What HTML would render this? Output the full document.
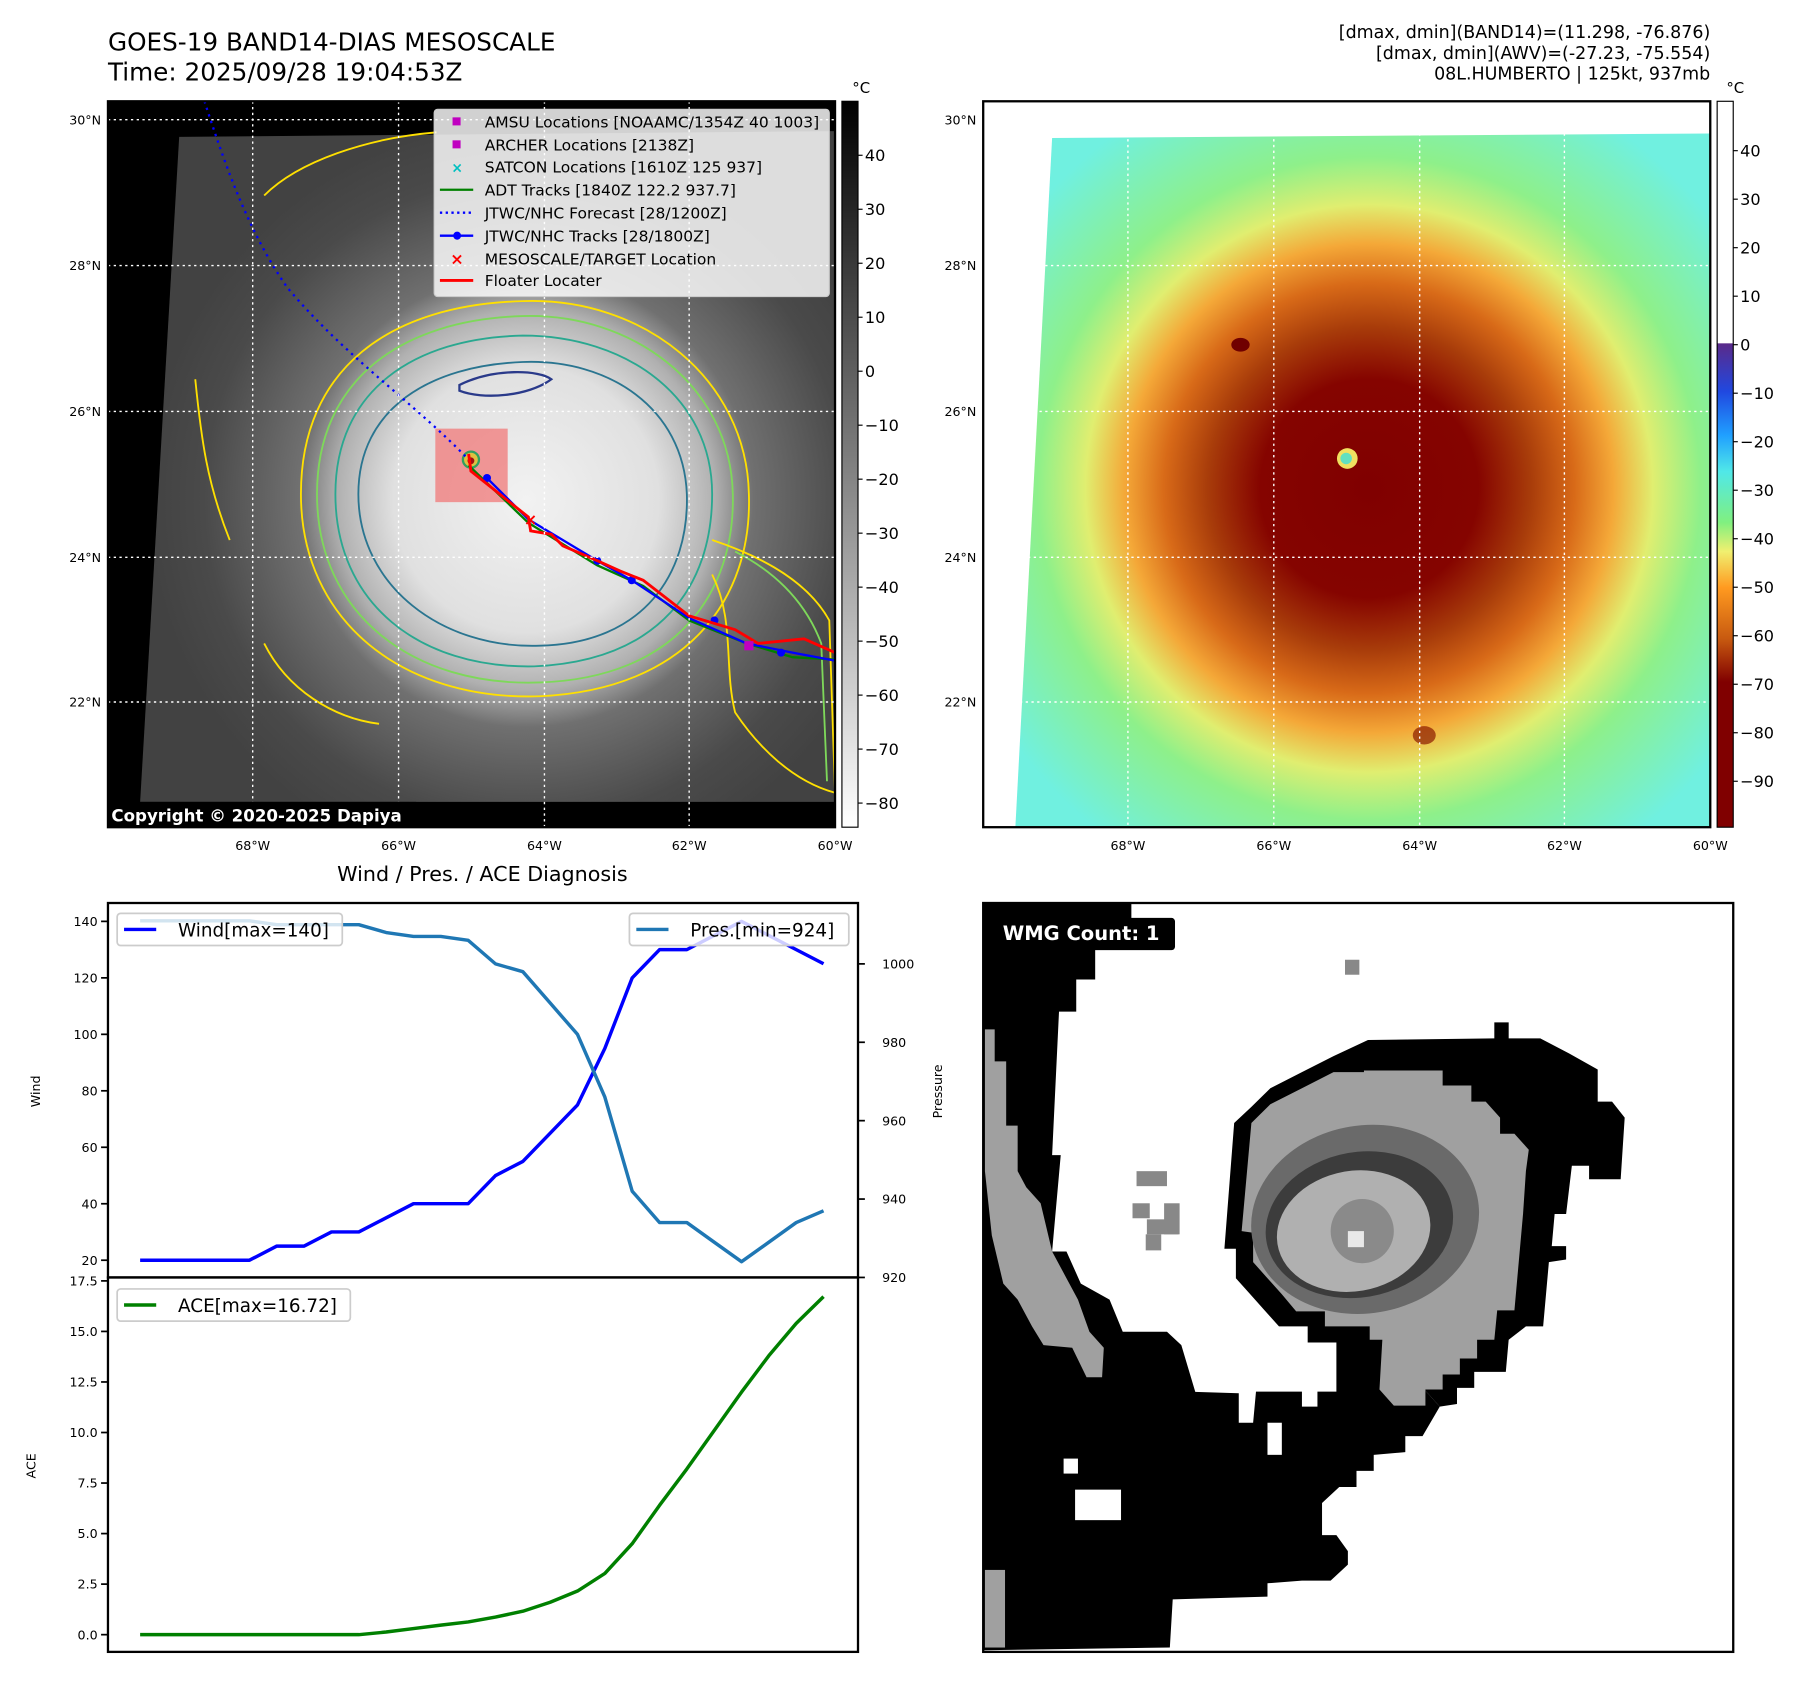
<!DOCTYPE html>
<html><head><meta charset="utf-8">
<style>
html,body{margin:0;padding:0;background:#fff;}
svg{display:block;font-family:"DejaVu Sans","Liberation Sans",sans-serif;}
</style></head>
<body>
<svg id="fig" width="1801" height="1690" viewBox="0 0 1568 1471" xmlns="http://www.w3.org/2000/svg">
<defs>
  <radialGradient id="irgray" gradientUnits="userSpaceOnUse" cx="458" cy="435" r="330">
    <stop offset="0" stop-color="#f2f2f2"/>
    <stop offset="0.35" stop-color="#e0e0e0"/>
    <stop offset="0.5" stop-color="#b0b0b0"/>
    <stop offset="0.6" stop-color="#707070"/>
    <stop offset="0.85" stop-color="#4a4a4a"/>
    <stop offset="1" stop-color="#424242"/>
  </radialGradient>
  <radialGradient id="ircolor" gradientUnits="userSpaceOnUse" cx="1192" cy="425" r="380">
    <stop offset="0" stop-color="#800000"/>
    <stop offset="0.25" stop-color="#850400"/>
    <stop offset="0.37" stop-color="#a83c0a"/>
    <stop offset="0.47" stop-color="#d86a18"/>
    <stop offset="0.56" stop-color="#f4a838"/>
    <stop offset="0.65" stop-color="#e0ee70"/>
    <stop offset="0.76" stop-color="#8ef08a"/>
    <stop offset="1" stop-color="#70f0e0"/>
  </radialGradient>
  <linearGradient id="cbgray" x1="0" y1="0" x2="0" y2="1">
    <stop offset="0" stop-color="#000"/><stop offset="1" stop-color="#fff"/>
  </linearGradient>
  <linearGradient id="cbcolor" gradientUnits="userSpaceOnUse" x1="0" y1="88" x2="0" y2="720">
    <stop offset="0" stop-color="#fff"/>
    <stop offset="0.333" stop-color="#fff"/>
    <stop offset="0.334" stop-color="#5a2a8a"/>
    <stop offset="0.40" stop-color="#2048e0"/>
    <stop offset="0.46" stop-color="#20a0ff"/>
    <stop offset="0.51" stop-color="#50e8e8"/>
    <stop offset="0.58" stop-color="#80f080"/>
    <stop offset="0.62" stop-color="#f0f070"/>
    <stop offset="0.67" stop-color="#ff9a20"/>
    <stop offset="0.74" stop-color="#c85a10"/>
    <stop offset="0.8" stop-color="#800000"/>
    <stop offset="1" stop-color="#800000"/>
  </linearGradient>
  <clipPath id="clipL"><rect x="94" y="88" width="633" height="632"/></clipPath>
</defs>

<text x="94" y="44" font-size="21.5">GOES-19 BAND14-DIAS MESOSCALE</text>
<text x="94" y="70" font-size="21.5">Time: 2025/09/28 19:04:53Z</text>
<g font-size="15.2" text-anchor="end">
  <text x="1489" y="33">[dmax, dmin](BAND14)=(11.298, -76.876)</text>
  <text x="1489" y="51">[dmax, dmin](AWV)=(-27.23, -75.554)</text>
  <text x="1489" y="69">08L.HUMBERTO | 125kt, 937mb</text>
</g>

<!-- LEFT MAP -->
<g clip-path="url(#clipL)">
  <rect x="94" y="88" width="633" height="632" fill="#000"/>
  <polygon points="156,119 727,114 727,698 122,698" fill="url(#irgray)"/>
  <g fill="none" stroke-width="1.6">
    <path d="M455,262 C560,258 650,330 652,430 C655,520 600,600 470,606 C350,610 262,540 262,430 C262,320 340,265 455,262 Z" stroke="#ffe000"/>
    <path d="M455,275 C550,272 636,335 638,430 C640,515 590,590 470,594 C360,598 276,535 276,430 C276,330 350,278 455,275 Z" stroke="#7ed85a"/>
    <path d="M455,292 C545,292 620,345 620,430 C620,510 575,575 465,580 C365,582 292,525 292,430 C292,340 360,294 455,292 Z" stroke="#2aa890"/>
    <path d="M455,315 C530,312 595,355 598,430 C600,500 560,560 470,562 C385,565 312,510 312,430 C312,355 375,318 455,315 Z" stroke="#2a7590"/>
    <path d="M400,335 C430,320 470,322 480,330 C460,345 420,348 400,340 Z" stroke="#2a3a8a" stroke-width="2"/>
    <path d="M620,470 C650,480 700,500 722,540 L727,690 C690,680 660,650 640,620 C630,580 640,540 620,500" stroke="#ffe000"/>
    <path d="M640,480 C670,495 700,520 715,560 L720,680" stroke="#7ed85a"/>
    <path d="M230,170 C260,140 320,120 380,115" stroke="#ffe000"/>
    <path d="M170,330 C175,380 180,420 200,470" stroke="#ffe000"/>
    <path d="M230,560 C250,600 290,625 330,630" stroke="#ffe000"/>
  </g>
  <rect x="379" y="373" width="63" height="64" fill="#f08080" opacity="0.8"/>
  <circle cx="410" cy="400" r="7" fill="#e0c040" stroke="#30a060" stroke-width="2"/>
  <circle cx="410" cy="401" r="3" fill="#a01010"/>
  <path d="M178,88 C195,140 215,200 250,250 C300,310 360,350 408,400" fill="none" stroke="#0000ff" stroke-width="2" stroke-dasharray="2,4"/>
  <path d="M408,405 L460,455 L520,492 L560,510 L600,540 L650,560 L690,572 L727,574" fill="none" stroke="#008000" stroke-width="2"/>
  <path d="M424,416 L460,452 L520,488 L550,505 L600,538 L650,560 L690,568 L727,575" fill="none" stroke="#0000ff" stroke-width="2"/>
  <g fill="#0000ff"><circle cx="424" cy="416" r="3.5"/><circle cx="520" cy="488" r="3.5"/><circle cx="550" cy="505" r="3.5"/><circle cx="622" cy="540" r="3.5"/><circle cx="680" cy="568" r="3.5"/></g>
  <path d="M408,395 L410,410 L460,450 L462,462 L480,465 L490,475 L520,488 L540,497 L560,505 L600,536 L640,548 L660,560 L700,556 L727,568" fill="none" stroke="#ff0000" stroke-width="2.5"/>
  <text x="456" y="457" fill="#ff0000" font-size="14" font-weight="bold">×</text>
  <rect x="648" y="558" width="8" height="8" fill="#c000c0"/>
</g>
<g stroke="#fff" stroke-width="1.2" stroke-dasharray="2,3">
  <line x1="220" y1="88" x2="220" y2="720"/><line x1="347" y1="88" x2="347" y2="720"/><line x1="474" y1="88" x2="474" y2="720"/><line x1="600" y1="88" x2="600" y2="720"/>
  <line x1="94" y1="104" x2="727" y2="104"/><line x1="94" y1="231" x2="727" y2="231"/><line x1="94" y1="358" x2="727" y2="358"/><line x1="94" y1="485" x2="727" y2="485"/><line x1="94" y1="611" x2="727" y2="611"/>
</g>
<rect x="94" y="88" width="633" height="632" fill="none" stroke="#000" stroke-width="2"/>
<g font-size="13.5">
  <rect x="378" y="95" width="344" height="163" rx="3" fill="#fff" fill-opacity="0.82" stroke="#ccc"/>
  <rect x="394" y="102" width="7" height="7" fill="#c000c0"/><text x="422" y="111">AMSU Locations [NOAAMC/1354Z 40 1003]</text>
  <rect x="394" y="122" width="7" height="7" fill="#c000c0"/><text x="422" y="131">ARCHER Locations [2138Z]</text>
  <text x="393" y="150" fill="#00c0c0" font-size="12" font-weight="bold">×</text><text x="422" y="150">SATCON Locations [1610Z 125 937]</text>
  <line x1="383" y1="165" x2="412" y2="165" stroke="#008000" stroke-width="2"/><text x="422" y="170">ADT Tracks [1840Z 122.2 937.7]</text>
  <line x1="383" y1="185" x2="412" y2="185" stroke="#0000ff" stroke-width="2" stroke-dasharray="2,3"/><text x="422" y="190">JTWC/NHC Forecast [28/1200Z]</text>
  <line x1="383" y1="205" x2="412" y2="205" stroke="#0000ff" stroke-width="2"/><circle cx="398" cy="205" r="3.5" fill="#0000ff"/><text x="422" y="210">JTWC/NHC Tracks [28/1800Z]</text>
  <text x="392" y="230" fill="#ff0000" font-size="14" font-weight="bold">×</text><text x="422" y="230">MESOSCALE/TARGET Location</text>
  <line x1="383" y1="244" x2="412" y2="244" stroke="#ff0000" stroke-width="2.5"/><text x="422" y="249">Floater Locater</text>
</g>
<rect x="94" y="698" width="270" height="22" rx="2" fill="#000"/>
<text x="97" y="715" font-size="14.5" font-weight="bold" fill="#fff">Copyright © 2020-2025 Dapiya</text>

<g font-size="11" text-anchor="end">
  <text x="88" y="108">30°N</text><text x="88" y="235">28°N</text><text x="88" y="362">26°N</text><text x="88" y="489">24°N</text><text x="88" y="615">22°N</text>
</g>
<g font-size="11" text-anchor="middle">
  <text x="220" y="740">68°W</text><text x="347" y="740">66°W</text><text x="474" y="740">64°W</text><text x="600" y="740">62°W</text><text x="727" y="740">60°W</text>
</g>
<g>
  <rect x="733" y="88" width="14" height="632" fill="url(#cbgray)" stroke="#000" stroke-width="1"/>
  <text x="742" y="81" font-size="13">°C</text>
  <g id="cbL" font-size="14"></g>
</g>

<!-- RIGHT MAP -->
<g>
  <rect x="856" y="88" width="633" height="632" fill="#fff"/>
  <polygon points="916,120 1489,116 1489,720 884,720" fill="url(#ircolor)"/>
  <ellipse cx="1080" cy="300" rx="8" ry="6" fill="#700000"/>
  <ellipse cx="1240" cy="640" rx="10" ry="8" fill="#8a1a00" opacity="0.7"/>
  <circle cx="1173" cy="399" r="9" fill="#f0e060"/>
  <circle cx="1172" cy="399" r="5" fill="#60e0c0"/>
</g>
<g stroke="#fff" stroke-width="1.2" stroke-dasharray="2,3">
  <line x1="982" y1="116" x2="982" y2="720"/><line x1="1109" y1="116" x2="1109" y2="720"/><line x1="1236" y1="116" x2="1236" y2="720"/><line x1="1362" y1="116" x2="1362" y2="720"/>
  <line x1="910" y1="231" x2="1489" y2="231"/><line x1="900" y1="358" x2="1489" y2="358"/><line x1="895" y1="485" x2="1489" y2="485"/><line x1="888" y1="611" x2="1489" y2="611"/>
</g>
<rect x="856" y="88" width="633" height="632" fill="none" stroke="#000" stroke-width="2"/>
<g font-size="11" text-anchor="end">
  <text x="850" y="108">30°N</text><text x="850" y="235">28°N</text><text x="850" y="362">26°N</text><text x="850" y="489">24°N</text><text x="850" y="615">22°N</text>
</g>
<g font-size="11" text-anchor="middle">
  <text x="982" y="740">68°W</text><text x="1109" y="740">66°W</text><text x="1236" y="740">64°W</text><text x="1362" y="740">62°W</text><text x="1489" y="740">60°W</text>
</g>
<g>
  <rect x="1495" y="88" width="14" height="632" fill="url(#cbcolor)" stroke="#000" stroke-width="1"/>
  <text x="1503" y="81" font-size="13">°C</text>
  <g id="cbR" font-size="14"></g>
</g>

<text x="420" y="767" font-size="18" text-anchor="middle">Wind / Pres. / ACE Diagnosis</text>
<g id="chart"></g>

<!-- BOTTOM RIGHT WMG -->
<g>
  <rect x="856" y="786" width="653" height="652" fill="#fff"/>
  <g transform="translate(856,786) scale(0.5,0.466) translate(-145,-99)">
    <polygon fill="#000" points="145,99 403,99 403,185 340,185 340,242 307,242 307,302 277,302 265,570 280,570 265,750 290,750 315,810 365,840 388,900 465,900 490,925 515,1015 400,1050 145,1050"/>
    <polygon fill="#000" points="145,1000 590,1015 590,1070 615,1070 620,1012 700,1012 700,1040 727,1040 727,1012 760,1012 760,920 830,915 860,1010 915,1010 940,1040 910,1095 880,1095 880,1125 825,1130 825,1160 795,1160 795,1190 765,1190 735,1220 735,1280 760,1280 780,1310 780,1335 750,1365 700,1365 640,1370 640,1395 475,1400 470,1490 145,1495"/>
    <polygon fill="#000" points="565,745 582,510 612,480 645,445 700,415 755,385 815,355 1035,352 1035,322 1060,322 1060,352 1115,352 1165,380 1215,410 1215,470 1240,470 1262,500 1255,615 1200,615 1200,590 1170,590 1160,680 1140,680 1135,740 1160,740 1160,765 1130,770 1120,890 1090,890 1060,915 1055,975 1000,975 1000,1005 970,1005 970,1035 940,1040 915,1010 860,1010 830,920 760,920 710,920 710,890 660,890 635,860 610,830 585,800 585,745"/>
    <rect x="285" y="1137" width="25" height="28" fill="#fff"/>
    <rect x="305" y="1195" width="80" height="57" fill="#fff"/>
    <rect x="640" y="1070" width="25" height="60" fill="#fff"/>
    <polygon fill="#a0a0a0" points="595,712 612,510 645,475 700,445 755,415 808,415 808,412 945,412 945,440 995,440 995,470 1020,470 1045,500 1045,530 1070,530 1095,560 1090,600 1085,680 1075,800 1070,860 1040,860 1035,915 1005,915 1005,950 975,950 975,980 945,980 945,1008 915,1008 915,1038 860,1038 835,1008 840,915 818,915 818,890 740,890 740,862 690,862 665,830 640,800 615,770 615,715"/>
    <ellipse cx="810" cy="690" rx="200" ry="175" fill="#6a6a6a" transform="rotate(-15 810 690)"/>
    <ellipse cx="800" cy="700" rx="165" ry="135" fill="#3c3c3c" transform="rotate(-15 800 700)"/>
    <ellipse cx="790" cy="712" rx="135" ry="112" fill="#b0b0b0" transform="rotate(-15 790 712)"/>
    <ellipse cx="805" cy="712" rx="55" ry="60" fill="#8a8a8a"/>
    <rect x="780" y="712" width="28" height="30" fill="#e8e8e8"/>
    <polygon fill="#a0a0a0" points="148,335 165,335 165,395 185,395 185,515 205,515 205,600 220,630 245,660 265,750 290,800 310,840 330,900 355,930 352,985 325,985 300,930 250,925 230,890 205,840 180,810 160,720 148,600"/>
    <rect x="148" y="1345" width="35" height="145" fill="#a0a0a0"/>
    <rect x="775" y="205" width="25" height="28" fill="#888"/>
    <rect x="412" y="600" width="53" height="28" fill="#888"/>
    <rect x="405" y="660" width="30" height="28" fill="#888"/>
    <rect x="460" y="660" width="27" height="58" fill="#888"/>
    <rect x="430" y="690" width="55" height="28" fill="#888"/>
    <rect x="428" y="718" width="27" height="30" fill="#888"/>
  </g>
  <rect x="856" y="786" width="653" height="652" fill="none" stroke="#000" stroke-width="2"/>
  <rect x="866" y="799" width="157" height="28" rx="3" fill="#000"/>
  <text x="873" y="818" font-size="17" font-weight="bold" fill="#fff">WMG Count: 1</text>
</g>
</svg>

<script>
var steps = [0,1,2,3,4,5,6,7,8,9,10,11,12,13,14,15,16,17,18,19,20,21,22,23,24,25];
var windVals = [20,20,20,20,20,25,25,30,30,35,40,40,40,50,55,65,75,95,120,130,130,135,140,135,130,125];
var presVals = [1011,1011,1011,1011,1011,1010,1010,1010,1010,1008,1007,1007,1006,1000,998,990,982,966,942,934,934,929,924,929,934,937];
var aceVals = [0,0,0,0,0,0,0,0,0,0.13,0.3,0.47,0.63,0.87,1.16,1.6,2.16,3.03,4.5,6.4,8.2,10.1,12.0,13.8,15.4,16.72];
var windTicks = [20,40,60,80,100,120,140];
var presTicks = [920,940,960,980,1000];
var aceTicks = [0,2.5,5,7.5,10,12.5,15,17.5];
var cbGrayTicks = [40,30,20,10,0,-10,-20,-30,-40,-50,-60,-70,-80];
var cbColorTicks = [40,30,20,10,0,-10,-20,-30,-40,-50,-60,-70,-80,-90];

var NS = "http://www.w3.org/2000/svg";
function mk(tag, attrs, parent){ var e=document.createElementNS(NS,tag); for(var k in attrs) e.setAttribute(k,attrs[k]); parent.appendChild(e); return e; }
function xS(i){ return 122 + (717-122)*i/25; }
function yWind(v){ return 1097 + (v-20)*(802-1097)/120; }
function yPres(v){ return 1112 + (v-920)*(839-1112)/80; }
function yAce(v){ return 1423 + v*(1115-1423)/17.5; }
function yCbL(v){ return 135 + (40-v)*(699-135)/120; }
function yCbR(v){ return 131 + (40-v)*(680-131)/130; }

var chart = document.getElementById('chart');
var f1 = mk('rect',{x:94,y:786,width:653,height:326,fill:'none',stroke:'#000','stroke-width':2},chart);


var f2 = mk('rect',{x:94,y:1112,width:653,height:326,fill:'none',stroke:'#000','stroke-width':2},chart);



windTicks.forEach(function(t){
  var y=yWind(t);
  mk('line',{x1:88,y1:y,x2:94,y2:y,stroke:'#000','stroke-width':1.5},chart);
  var tx=mk('text',{x:85,y:y+4,'font-size':11,'text-anchor':'end'},chart); tx.textContent=t;
  
  
});
presTicks.forEach(function(t){
  var y=yPres(t);
  mk('line',{x1:747,y1:y,x2:753,y2:y,stroke:'#000','stroke-width':1.5},chart);
  var tx=mk('text',{x:768,y:y+4,'font-size':11},chart); tx.textContent=t;
  
  
});
aceTicks.forEach(function(t){
  var y=yAce(t);
  mk('line',{x1:88,y1:y,x2:94,y2:y,stroke:'#000','stroke-width':1.5},chart);
  var tx=mk('text',{x:85,y:y+4,'font-size':11,'text-anchor':'end'},chart); tx.textContent=t.toFixed(1);
  
  
});
var lw=mk('text',{x:35,y:950,'font-size':11,'text-anchor':'middle',transform:'rotate(-90 35 950)'},chart); lw.textContent='Wind';


var lp=mk('text',{x:820,y:950,'font-size':11,'text-anchor':'middle',transform:'rotate(-90 820 950)'},chart); lp.textContent='Pressure';


var la=mk('text',{x:31,y:1276,'font-size':11,'text-anchor':'middle',transform:'rotate(-90 31 1276)'},chart); la.textContent='ACE';



function pts(vals, yf){ return steps.map(function(s,i){ return xS(s).toFixed(1)+','+yf(vals[i]).toFixed(1); }).join(' '); }
var wl=mk('polyline',{points:pts(windVals,yWind),fill:'none',stroke:'#0000ff','stroke-width':3,'stroke-linejoin':'round'},chart);


var pl=mk('polyline',{points:pts(presVals,yPres),fill:'none',stroke:'#1f77b4','stroke-width':3,'stroke-linejoin':'round'},chart);


var al=mk('polyline',{points:pts(aceVals,yAce),fill:'none',stroke:'#008000','stroke-width':3,'stroke-linejoin':'round'},chart);



function legend(x,y,w,color,label,name){
  var g=mk('g',{},chart);
  
  
  mk('rect',{x:x,y:y,width:w,height:28,rx:3,fill:'#fff','fill-opacity':0.8,stroke:'#ccc','stroke-width':1.5},g);
  mk('line',{x1:x+6,y1:y+14,x2:x+34,y2:y+14,stroke:color,'stroke-width':3},g);
  var t=mk('text',{x:x+53,y:y+20,'font-size':16},g); t.textContent=label;
}
legend(102,795,196,'#0000ff','Wind[max=140]','wind-legend');
legend(548,795,191,'#1f77b4','Pres.[min=924]','pressure-legend');
legend(102,1122,203,'#008000','ACE[max=16.72]','ace-legend');

var cbL=document.getElementById('cbL');
cbGrayTicks.forEach(function(t){
  var y=yCbL(t);
  mk('line',{x1:747,y1:y,x2:751,y2:y,stroke:'#000'},cbL);
  var tx=mk('text',{x:753,y:y+5},cbL); tx.textContent=(t<0?'\u2212'+(-t):t);
  
  
});
var cbR=document.getElementById('cbR');
cbColorTicks.forEach(function(t){
  var y=yCbR(t);
  mk('line',{x1:1509,y1:y,x2:1513,y2:y,stroke:'#000'},cbR);
  var tx=mk('text',{x:1515,y:y+5},cbR); tx.textContent=(t<0?'\u2212'+(-t):t);
  
  
});
</script>
</body></html>
